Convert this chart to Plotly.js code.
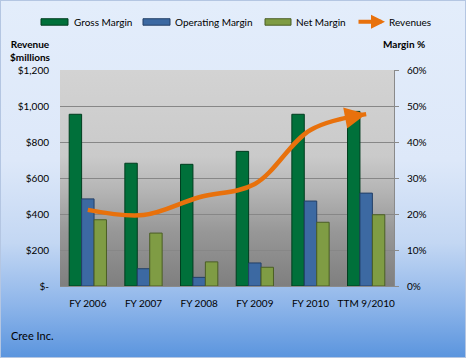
<!DOCTYPE html>
<html>
<head>
<meta charset="utf-8">
<script src="https://cdn.plot.ly/plotly-3.0.1.min.js"></script>
<style>
html,body{margin:0;padding:0;}
#wrap{position:relative;width:466px;height:358px;box-sizing:border-box;border:1px solid #b4c6e2;
background:linear-gradient(to bottom,#e3edfb 0%,#dde8f9 45%,#c3d7f3 68%,#8fb6ea 85%,#5b95de 100%);overflow:hidden;}
#chart{position:absolute;left:-1px;top:-1px;width:466px;height:358px;}
</style>
</head>
<body>
<div id="wrap"><div id="chart"></div></div>
<script>
const categories = ["FY 2006","FY 2007","FY 2008","FY 2009","FY 2010","TTM 9/2010"];
const grossMargin = [47.7, 34.1, 33.8, 37.4, 47.7, 48.5];
const operatingMargin = [24.2, 4.8, 2.4, 6.4, 23.6, 25.8];
const netMargin = [18.4, 14.7, 6.7, 5.2, 17.7, 19.8];
const revenues = [423, 394, 493, 567, 867, 955];
const revTickVals = [0,200,400,600,800,1000,1200];
const revTickText = ["$-","$200","$400","$600","$800","$1,000","$1,200"];
const pctTickVals = [0,10,20,30,40,50,60];
const pctTickText = ["0%","10%","20%","30%","40%","50%","60%"];

const FONT = "Lato, 'Open Sans', sans-serif";
const L = 60, R = 394, T = 69.5, B = 286.5;
const px = x => (x - L) / (R - L);
const py = y => (B - y) / (B - T);

const svg = "<svg xmlns='http://www.w3.org/2000/svg' width='10' height='100' preserveAspectRatio='none'><defs><linearGradient id='g' x1='0' y1='0' x2='0' y2='1'><stop offset='0' stop-color='#d3d3d3'/><stop offset='0.4' stop-color='#cacaca'/><stop offset='0.55' stop-color='#b6b6b6'/><stop offset='0.75' stop-color='#979797'/><stop offset='1' stop-color='#7f7f7f'/></linearGradient></defs><rect width='10' height='100' fill='url(#g)'/></svg>";
const bgSrc = "data:image/svg+xml;base64," + btoa(svg);

const traces = [
  {type:"bar", name:"Gross Margin", x:categories, y:grossMargin, yaxis:"y", xaxis:"x",
   marker:{color:"#00703a", line:{color:"#003d1f", width:1}}, showlegend:false, hoverinfo:"y"},
  {type:"bar", name:"Operating Margin", x:categories, y:operatingMargin, yaxis:"y", xaxis:"x",
   marker:{color:"#3c69a2", line:{color:"#233f66", width:1}}, showlegend:false, hoverinfo:"y"},
  {type:"bar", name:"Net Margin", x:categories, y:netMargin, yaxis:"y", xaxis:"x",
   marker:{color:"#7f9c44", line:{color:"#4b5e25", width:1}}, showlegend:false, hoverinfo:"y"},
  {type:"scatter", mode:"lines", name:"Revenues", x:categories, y:revenues, yaxis:"y2", xaxis:"x",
   line:{color:"#e8710c", width:4.5, shape:"spline", smoothing:1}, showlegend:false, cliponaxis:false}
];

const tf = {family:FONT, size:10, color:"#000"};
const legendY = 21;
const shapes = [
  {type:"rect", xref:"paper", yref:"paper", x0:px(41), x1:px(68), y0:py(24.5), y1:py(18), fillcolor:"#00703a", line:{color:"#003d1f", width:1}},
  {type:"rect", xref:"paper", yref:"paper", x0:px(143), x1:px(170), y0:py(24.5), y1:py(18), fillcolor:"#3c69a2", line:{color:"#233f66", width:1}},
  {type:"rect", xref:"paper", yref:"paper", x0:px(265), x1:px(291), y0:py(24.5), y1:py(18), fillcolor:"#7f9c44", line:{color:"#4b5e25", width:1}}
];
const annotations = [
  {xref:"paper", yref:"paper", x:px(72), y:py(legendY), xanchor:"left", yanchor:"middle", text:"Gross Margin", showarrow:false, font:tf},
  {xref:"paper", yref:"paper", x:px(173), y:py(legendY), xanchor:"left", yanchor:"middle", text:"Operating Margin", showarrow:false, font:tf},
  {xref:"paper", yref:"paper", x:px(294), y:py(legendY), xanchor:"left", yanchor:"middle", text:"Net Margin", showarrow:false, font:tf},
  {xref:"paper", yref:"paper", x:px(387), y:py(legendY), xanchor:"left", yanchor:"middle", text:"Revenues", showarrow:false, font:tf},
  {xref:"paper", yref:"paper", x:px(385), y:py(legendY), ax:-28, ay:0, text:"", showarrow:true, arrowhead:2, arrowsize:0.7, arrowwidth:4, arrowcolor:"#e8710c", standoff:0},
  {xref:"paper", yref:"paper", x:px(30), y:py(49.5), xanchor:"center", yanchor:"middle", text:"Revenue<br>$millions", showarrow:false, font:{family:FONT, size:10, color:"#000", weight:"bold"}, align:"center"},
  {xref:"paper", yref:"paper", x:px(404), y:py(43), xanchor:"center", yanchor:"middle", text:"Margin %", showarrow:false, font:{family:FONT, size:10, color:"#000", weight:"bold"}},
  {xref:"paper", yref:"paper", x:px(9), y:py(336), xanchor:"left", yanchor:"middle", text:"Cree Inc.", showarrow:false, font:{family:FONT, size:11, color:"#000"}},
  {xref:"x", yref:"y2", x:categories[5], y:revenues[5], ax:-16, ay:3, text:"", showarrow:true, arrowhead:2, arrowsize:0.95, arrowwidth:4.5, arrowcolor:"#e8710c", standoff:0}
];

const layout = {
  width:466, height:358,
  margin:{l:L, r:466-R, t:T, b:358-B, pad:0},
  paper_bgcolor:"rgba(0,0,0,0)", plot_bgcolor:"rgba(0,0,0,0)",
  font:tf,
  barmode:"group", bargap:0.33, bargroupgap:0,
  showlegend:false,
  images:[{source:bgSrc, xref:"paper", yref:"paper", x:0, y:1, sizex:1, sizey:1, xanchor:"left", yanchor:"top", sizing:"stretch", layer:"below"}],
  xaxis:{type:"category", showgrid:false, showline:true, linecolor:"#8a8a8a", linewidth:1, ticks:"", tickfont:tf, ticklabelstandoff:8, fixedrange:true},
  yaxis:{side:"right", range:[0,60], tickvals:pctTickVals, ticktext:pctTickText, showgrid:true, gridcolor:"#878787", gridwidth:1,
         zeroline:false, showline:true, linecolor:"#8a8a8a", ticks:"outside", ticklen:4, tickcolor:"#8a8a8a", tickfont:tf, ticklabelstandoff:6, fixedrange:true},
  yaxis2:{side:"left", overlaying:"y", range:[0,1200], tickvals:revTickVals, ticktext:revTickText, showgrid:false, zeroline:false, showline:false,
          ticks:"", tickfont:tf, ticklabelstandoff:10, fixedrange:true},
  shapes:shapes,
  annotations:annotations
};

Plotly.newPlot("chart", traces, layout, {displayModeBar:false, staticPlot:true});
</script>
</body>
</html>
